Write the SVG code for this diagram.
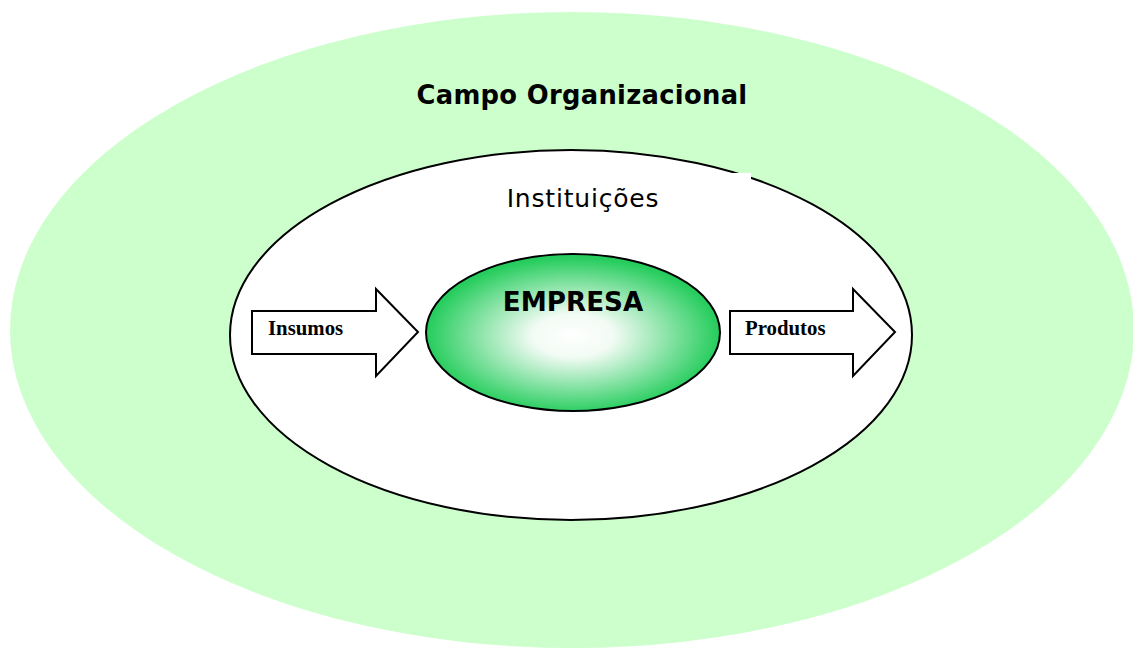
<svg xmlns="http://www.w3.org/2000/svg" width="1133" height="651" viewBox="0 0 1133 651">
<style>
.ln{stroke:#000;stroke-width:2}
.arrow{fill:#fff;stroke:#000;stroke-width:2;stroke-linejoin:miter}
.lbl{font-family:"Liberation Serif","Times New Roman",serif;font-weight:bold;font-size:20.8px;fill:#000}
.sans{font-family:"DejaVu Sans",Verdana,sans-serif;fill:#000}
</style>
<defs>
<radialGradient id="g" cx="0.5" cy="0.52" r="0.55">
<stop offset="0" stop-color="#ffffff"/>
<stop offset="0.25" stop-color="#f2fbf4"/>
<stop offset="0.9" stop-color="#27cd5e"/>
<stop offset="1" stop-color="#22cc5a"/>
</radialGradient>
</defs>
<rect width="1133" height="651" fill="#fff"/>
<g id="campo">
<ellipse cx="572" cy="330" rx="562" ry="318" fill="#ccffcc"/>
<text class="sans" x="582" y="104" text-anchor="middle" font-size="25.8" font-weight="bold" letter-spacing="0.3">Campo Organizacional</text>
</g>
<g id="instituicoes">
<ellipse class="ln" cx="571" cy="335" rx="341" ry="185" fill="#fff"/>
<rect x="420" y="173" width="331" height="40" fill="#fff"/>
<text class="sans" x="583" y="207" text-anchor="middle" font-size="25" letter-spacing="0.8">Instituições</text>
</g>
<g id="empresa">
<ellipse class="ln" cx="573" cy="332.5" rx="147" ry="78.5" fill="url(#g)"/>
<text class="sans" x="573" y="311" text-anchor="middle" font-size="26.2" font-weight="bold">EMPRESA</text>
</g>
<g id="connectors">
<g id="insumos">
<polygon class="arrow" points="252,311 376,311 376,289 418,332 376,376 376,354 252,354"/>
<text class="lbl" x="268" y="335">Insumos</text>
</g>
<g id="produtos">
<polygon class="arrow" points="730,311 853,311 853,289 895,332 853,376 853,354 730,354"/>
<text class="lbl" x="745" y="335">Produtos</text>
</g>
</g>
</svg>
